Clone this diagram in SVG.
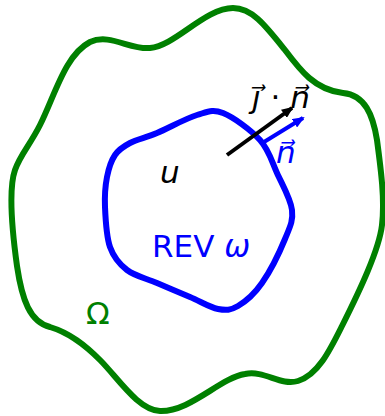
<svg xmlns="http://www.w3.org/2000/svg" width="385" height="416" viewBox="0 0 385 416">
<style>
.t{font-family:"DejaVu Sans",sans-serif;font-size:31px}
.i{font-style:italic}
.curve{fill:none;stroke-width:6}
</style>
<defs>
<marker id="ak" markerWidth="12" markerHeight="10" refX="10" refY="5" orient="auto" markerUnits="userSpaceOnUse"><path d="M0,0 L12,5 L0,10 Z" fill="#000"/></marker>
<marker id="ab" markerWidth="12" markerHeight="10" refX="10" refY="5" orient="auto" markerUnits="userSpaceOnUse"><path d="M0,0 L12,5 L0,10 Z" fill="#00f"/></marker>
</defs>
<g id="omega-domain">
<path class="curve" stroke="#008000" d="M233,8 C252,8 265,25 285,50 C300,70 315,90 343,93 C365,95 373,115 377,140 C381,170 385,200 382,225 C379,250 360,290 342,326 C330,350 318,375 298,381 C280,386 265,370 245,374 C220,378 190,412 160,411 C138,410 118,378 100,360 C85,345 70,333 50,327 C30,322 22,300 17,266 C12,230 8,190 15,170 C20,155 30,145 40,125 C55,95 65,55 90,42 C110,33 130,50 150,48 C175,46 205,8 233,8 Z"/>
<text x="86" y="324" class="t" fill="#008000">Ω</text>
</g>
<g id="rev">
<path class="curve" stroke="#00f" d="M223,113 C233.5,117.2 251,130 260,140 C269,150 271.7,161.3 277,173 C282.3,184.7 290.7,199 292,210 C293.3,221 290,226.8 285,239 C280,251.2 269.8,271.8 262,283 C254.2,294.2 245.3,301.7 238,306 C230.7,310.3 226,310.5 218,309 C210,307.5 200.2,301.3 190,297 C179.8,292.7 167.5,287.5 157,283 C146.5,278.5 134.8,276 127,270 C119.2,264 113.7,257.5 110,247 C106.3,236.5 105.5,218.7 105,207 C104.5,195.3 105.3,185.7 107,177 C108.7,168.3 111.2,160.7 115,155 C118.8,149.3 123,146.7 130,143 C137,139.3 145.8,137.7 157,133 C168.2,128.3 186,118.3 197,115 C208,111.7 212.5,108.8 223,113 Z"/>
<text x="152" y="257" class="t" fill="#00f">REV <tspan class="i">ω</tspan></text>
</g>
<g id="u-label">
<text x="160" y="183" class="t i" fill="#000">u</text>
</g>
<g id="flux-label">
<text x="252" y="108" class="t" fill="#000"><tspan class="i">j⃗</tspan> · <tspan class="i">n⃗</tspan></text>
</g>
<g id="normal-label">
<text x="276" y="163" class="t i" fill="#00f">n⃗</text>
</g>
<g id="connectors">
<line x1="227" y1="155" x2="292" y2="108" stroke="#000" stroke-width="4" marker-end="url(#ak)"/>
<line x1="264" y1="142" x2="303" y2="118" stroke="#00f" stroke-width="4" marker-end="url(#ab)"/>
</g>
</svg>
